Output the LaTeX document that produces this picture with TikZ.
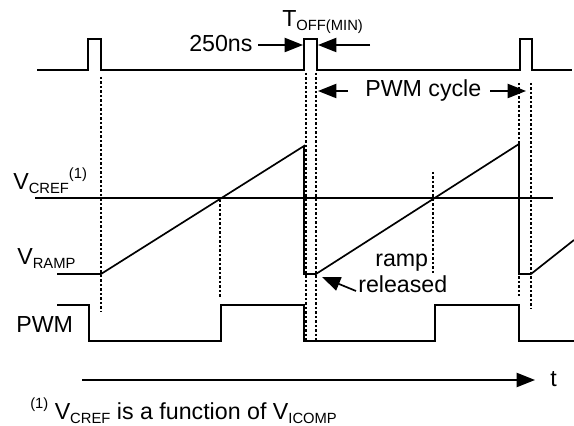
\documentclass[tikz,border=0pt]{standalone}
\usepackage{fontspec}
\setmainfont{Liberation Sans}
\usetikzlibrary{arrows.meta}

\newcommand\lowtxt[1]{\raisebox{-0.14em}{\fontsize{10.5}{12}\selectfont #1}}
\newcommand\hightxt[1]{\raisebox{0.5em}{\fontsize{10.5}{12}\selectfont #1}}

\begin{document}
\begin{tikzpicture}[x=0.025cm,y=-0.025cm,inner sep=0pt,
  sig/.style={line width=1.2pt},
  guide/.style={line width=0.9pt,dash pattern=on 1.6pt off 1.6pt},
  tip/.style={line width=1.2pt,-{Triangle[length=13pt,width=10pt]}},
  lbl/.style={anchor=base west,font=\fontsize{16.5}{19}\selectfont}]

\useasboundingbox (0,0) rectangle (574,426);

% pulses
\draw[sig] (37,70) -- (88,70) -- (88,39) -- (101,39) -- (101,70) -- (304,70)
  -- (304,39) -- (317,39) -- (317,70) -- (520,70) -- (520,39) -- (532,39)
  -- (532,70) -- (572,70);

% ramp and reference
\draw[sig] (35,198) -- (553,198);
\draw[sig] (57,274) -- (101,274) -- (304,146) -- (304,274) -- (316,274)
  -- (519,144) -- (519,274) -- (531,274) -- (574,240);

% pwm
\draw[sig] (57,305) -- (89,305) -- (89,341) -- (221,341) -- (221,305)
  -- (304,305) -- (304,341) -- (435,341) -- (435,305) -- (519,305)
  -- (519,341) -- (574,341);

% guides
\draw[guide] (101,77) -- (101,312);
\draw[guide] (220,200) -- (220,298);
\draw[guide] (306,73) -- (306,340);
\draw[guide] (316,73) -- (316,340);
\draw[guide] (433,172) -- (433,273);
\draw[guide] (519,83) -- (519,296);
\draw[guide] (531,83) -- (531,309);

% labels
\node[lbl] (ns) at (189,52) {250ns};
\node[lbl] (toff) at (282,27) {T\lowtxt{OFF(MIN)}};
\node[lbl] (cyc) at (365,97) {PWM cycle};
\node[lbl] (vcref) at (13,190) {V\lowtxt{CREF}\hightxt{(1)}};
\node[lbl] (vramp) at (17,265) {V\lowtxt{RAMP}};
\node[lbl] (pwm) at (16,333) {PWM};
\node[lbl] (ramp) at (375,267) {ramp};
\node[lbl] (rel) at (358,293) {released};
\node[lbl] (t) at (550,387) {t};
\node[lbl] (note) at (30,420) {\hightxt{(1)} V\lowtxt{CREF} is a function of V\lowtxt{ICOMP}};

% arrows
\draw[tip] (258,45) -- (303,45);
\draw[tip] (370,45) -- (318,45);
\draw[tip] (348,91) -- (318,91);
\draw[tip] (490,91) -- (526,91);
\draw[tip] (356,291) -- (322,277);
\draw[tip] (82,380) -- (535,380);
\end{tikzpicture}
\end{document}
